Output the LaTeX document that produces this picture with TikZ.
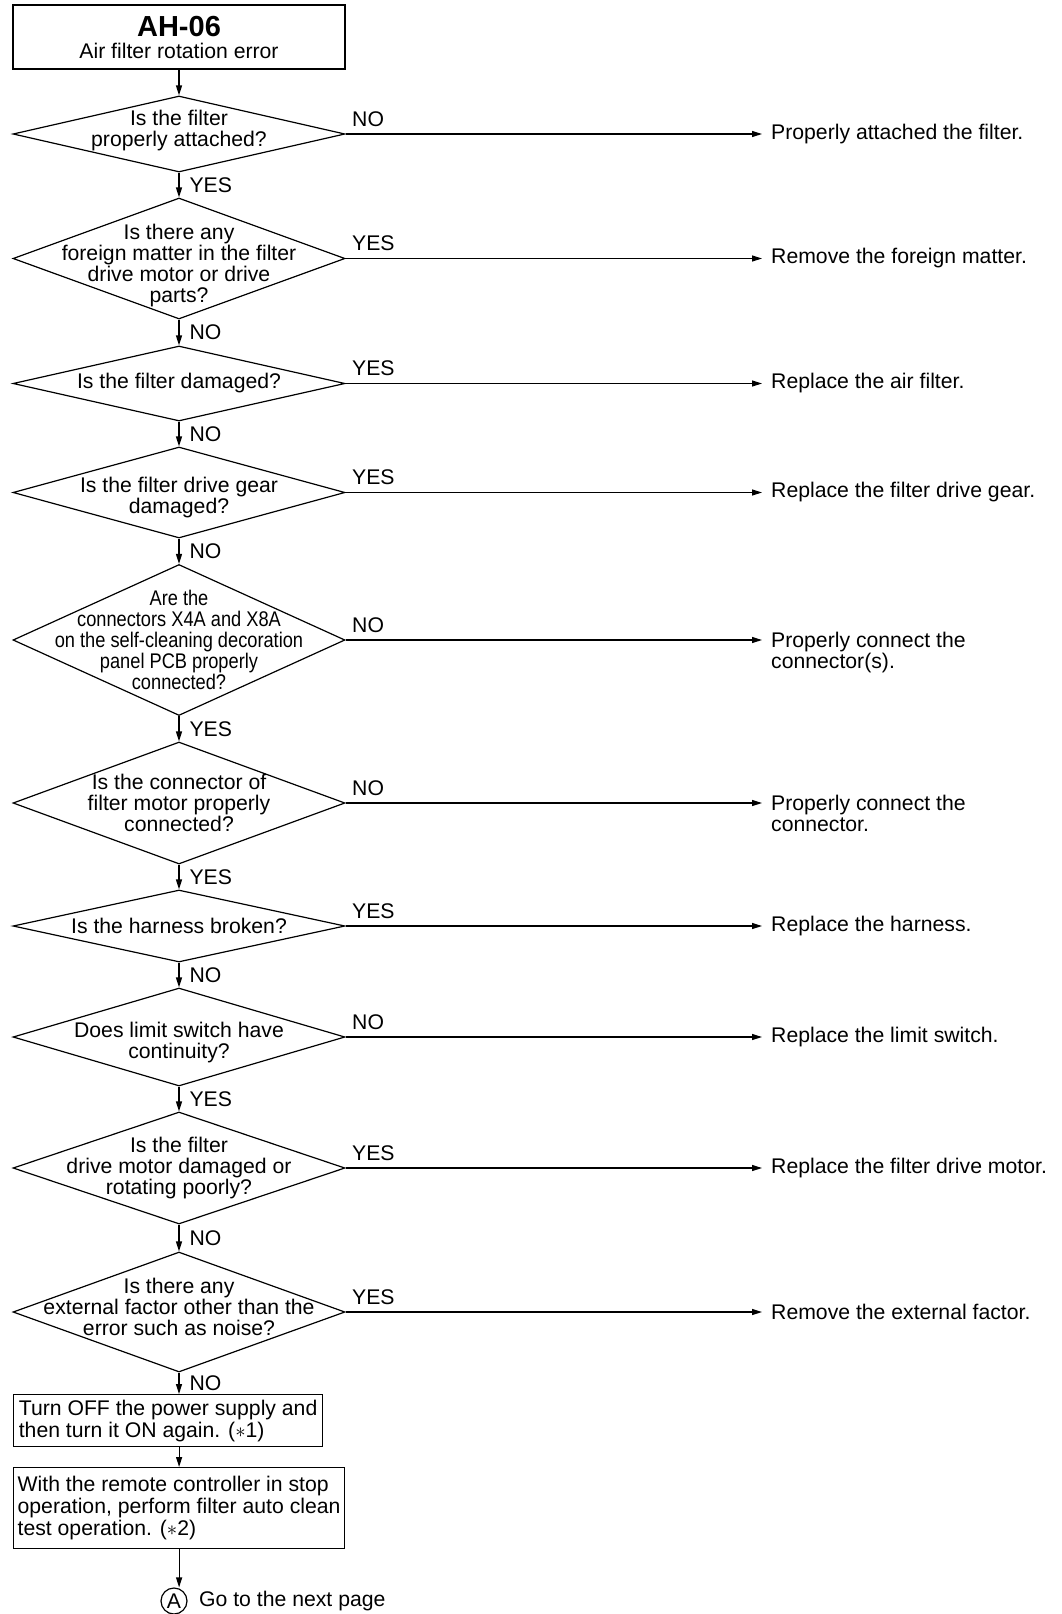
\documentclass[tikz,border=0pt]{standalone}
\usepackage{fontspec}
\setmainfont{Liberation Sans}
\newfontfamily\narrowsans[FakeStretch=0.86]{Liberation Sans}
\usetikzlibrary{shapes.geometric,arrows.meta}
\newcommand\txtsize{\fontsize{21.2}{22}\selectfont}
\tikzset{
  dec/.style     = {diamond, draw, line width=1.2pt, inner sep=0, minimum width=332pt},
  qt/.style      = {align=center, font=\fontsize{21.2}{21}\selectfont},
  headbox/.style = {rectangle, draw, line width=1.2pt, minimum width=332pt, minimum height=64pt, inner sep=0, align=center, font=\txtsize},
  act/.style     = {rectangle, draw, line width=1.2pt, anchor=north west, inner sep=3pt, align=left, font=\txtsize},
  res/.style     = {anchor=west, inner sep=0, font=\txtsize},
  res2/.style    = {anchor=north west, inner sep=0, align=left, font=\fontsize{21.2}{20.5}\selectfont},
  link/.style    = {line width=1.2pt, -{Triangle[length=10pt,width=6pt]}},
  exit/.style    = {link, shorten >=9pt},
  et/.style      = {font=\txtsize, inner sep=1pt},
  side/.style    = {et, anchor=south west, pos=0, xshift=5pt, yshift=6pt},
  dn/.style      = {et, right=9pt}
}
\begin{document}
\begin{tikzpicture}[x=1pt,y=-1pt]
  \clip (0,0) rectangle (1062,1614);

  \node[headbox] (t) at (179,37) {{\fontsize{29}{30}\selectfont\bfseries AH-06}\\Air filter rotation error};

  \node[dec, minimum height=76pt,  label={[qt, yshift=3pt]center:{Is the filter\\properly attached?}}] (d1) at (179,134) {};
  \node[dec, minimum height=121pt, label={[qt, yshift=-7pt]center:{Is there any\\foreign matter in the filter\\drive motor or drive\\parts?}}] (d2) at (179,258.5) {};
  \node[dec, minimum height=75pt,  label={[qt]center:{Is the filter damaged?}}] (d3) at (179,383.5) {};
  \node[dec, minimum height=91pt,  label={[qt, yshift=-5pt]center:{Is the filter drive gear\\damaged?}}] (d4) at (179,492.5) {};
  \node[dec, minimum height=151pt, label={[qt, font=\narrowsans\fontsize{21.2}{20.8}\selectfont]center:{Are the\\connectors X4A and X8A\\on the self-cleaning decoration\\panel PCB properly\\connected?}}] (d5) at (179,640) {};
  \node[dec, minimum height=122pt, label={[qt]center:{Is the connector of\\filter motor properly\\connected?}}] (d6) at (179,803) {};
  \node[dec, minimum height=72pt,  label={[qt]center:{Is the harness broken?}}] (d7) at (179,926) {};
  \node[dec, minimum height=98pt,  label={[qt, yshift=-6pt]center:{Does limit switch have\\continuity?}}] (d8) at (179,1037) {};
  \node[dec, minimum height=112pt, label={[qt]center:{Is the filter\\drive motor damaged or\\rotating poorly?}}] (d9) at (179,1168) {};
  \node[dec, minimum height=120pt, label={[qt, yshift=5pt]center:{Is there any\\external factor other than the\\error such as noise?}}] (d10) at (179,1312) {};

  \node[act, minimum width=309pt, minimum height=52pt] (b1) at (13,1394) {Turn OFF the power supply and\\then turn it ON again. ($\ast$1)};
  \node[act, minimum width=331pt, minimum height=81pt] (b2) at (13,1467) {With the remote controller in stop\\operation, perform filter auto clean\\test operation. ($\ast$2)};
  \node[circle, draw, line width=1.2pt, minimum size=26pt, inner sep=0, font=\txtsize] (ca) at (174,1601) {A};
  \node[res] (gn) at (199,1601) {Go to the next page};

  \node[res]  (r1)  at (771,134)    {Properly attached the filter.};
  \node[res]  (r2)  at (771,258.5)  {Remove the foreign matter.};
  \node[res]  (r3)  at (771,383.5)  {Replace the air filter.};
  \node[res]  (r4)  at (771,492.5)  {Replace the filter drive gear.};
  \node[res2] (r5)  at (771,632)    {Properly connect the\\connector(s).};
  \node[res2] (r6)  at (771,795)    {Properly connect the\\connector.};
  \node[res]  (r7)  at (771,926)    {Replace the harness.};
  \node[res]  (r8)  at (771,1037)   {Replace the limit switch.};
  \node[res]  (r9)  at (771,1168)   {Replace the filter drive motor.};
  \node[res]  (r10) at (771,1312)   {Remove the external factor.};

  \draw[link] (t.south) -- (d1.north);
  \draw[link] (d1.south) -- node[dn] {YES} (d2.north);
  \draw[link] (d2.south) -- node[dn] {NO}  (d3.north);
  \draw[link] (d3.south) -- node[dn] {NO}  (d4.north);
  \draw[link] (d4.south) -- node[dn] {NO}  (d5.north);
  \draw[link] (d5.south) -- node[dn] {YES} (d6.north);
  \draw[link] (d6.south) -- node[dn] {YES} (d7.north);
  \draw[link] (d7.south) -- node[dn] {NO}  (d8.north);
  \draw[link] (d8.south) -- node[dn] {YES} (d9.north);
  \draw[link] (d9.south) -- node[dn] {NO}  (d10.north);
  \draw[link] (d10.south) -- node[dn] {NO} (d10.south |- b1.north);
  \draw[link] (b2.north |- b1.south) -- (b2.north);
  \draw[link] (b2.south) -- (b2.south |- ca.north);

  \draw[exit] (d1.east)  -- node[side] {NO}  (r1.west);
  \draw[exit] (d2.east)  -- node[side] {YES} (r2.west);
  \draw[exit] (d3.east)  -- node[side] {YES} (r3.west);
  \draw[exit] (d4.east)  -- node[side] {YES} (r4.west);
  \draw[exit] (d5.east)  -- node[side] {NO}  (d5.east -| r5.west);
  \draw[exit] (d6.east)  -- node[side] {NO}  (d6.east -| r6.west);
  \draw[exit] (d7.east)  -- node[side] {YES} (r7.west);
  \draw[exit] (d8.east)  -- node[side] {NO}  (r8.west);
  \draw[exit] (d9.east)  -- node[side] {YES} (r9.west);
  \draw[exit] (d10.east) -- node[side] {YES} (r10.west);

\end{tikzpicture}
\end{document}
